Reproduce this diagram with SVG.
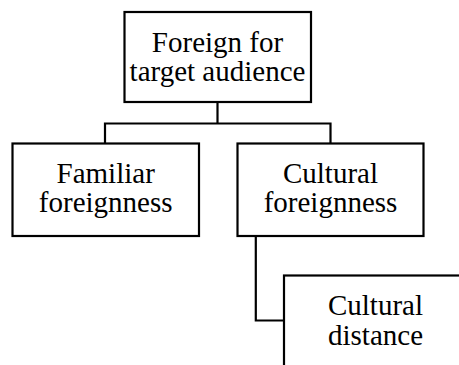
<svg xmlns="http://www.w3.org/2000/svg" width="459" height="365" viewBox="0 0 459 365">
<style>
.box{fill:#fff;stroke:#000;stroke-width:2.2}
.lbl{font-family:"Liberation Serif","Times New Roman",serif;font-size:29px;fill:#000;text-anchor:middle}
.con{fill:none;stroke:#000;stroke-width:2.2}
</style>
<rect width="459" height="365" fill="#fff"/>
<g id="connectors">
<path class="con" d="M217.5,102 V123.5 M105,123.5 H330.5 M105,122.4 V143.5 M330.5,122.4 V143.5"/>
<path class="con" d="M255.8,236 V320.5 H284"/>
</g>
<g id="node-root">
<rect class="box" x="124.5" y="12" width="186.5" height="90"/>
<text class="lbl" x="217.5" y="52">Foreign for</text>
<text class="lbl" x="217.5" y="81">target audience</text>
</g>
<g id="node-familiar">
<rect class="box" x="12.5" y="143.5" width="186.5" height="92.5"/>
<text class="lbl" x="105.7" y="183">Familiar</text>
<text class="lbl" x="105.7" y="212">foreignness</text>
</g>
<g id="node-cultural">
<rect class="box" x="237.5" y="143.5" width="186" height="92.5"/>
<text class="lbl" x="330.5" y="183">Cultural</text>
<text class="lbl" x="330.5" y="212">foreignness</text>
</g>
<g id="node-distance">
<rect class="box" x="284" y="275.5" width="186.5" height="95"/>
<text class="lbl" x="375.5" y="315">Cultural</text>
<text class="lbl" x="375.5" y="345">distance</text>
</g>
</svg>
